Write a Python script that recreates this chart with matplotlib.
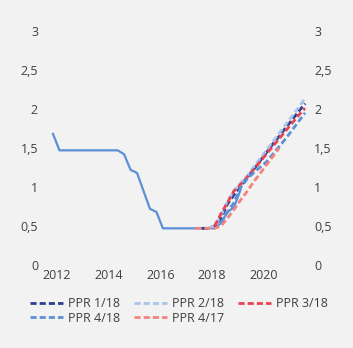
import matplotlib.pyplot as plt

plt.rcParams['font.family'] = ['Open Sans', 'DejaVu Sans']

# quarterly index: 0 = 2012 Q1
history_start = 0
history = [1.68, 1.47, 1.47, 1.47, 1.47, 1.47, 1.47, 1.47, 1.47, 1.47,
           1.47, 1.42, 1.22, 1.18, 0.95, 0.72, 0.68, 0.47, 0.47, 0.47,
           0.47, 0.47, 0.47, 0.47, 0.47, 0.47, 0.54, 0.68, 0.74, 0.96]

ppr_1_18_start = 23
ppr_1_18 = [0.47, 0.47, 0.5, 0.6, 0.78, 0.9, 1.0, 1.12, 1.22, 1.33,
            1.44, 1.55, 1.65, 1.76, 1.86, 1.97, 2.07]
ppr_2_18_start = 24
ppr_2_18 = [0.47, 0.5, 0.63, 0.82, 0.95, 1.05, 1.14, 1.25, 1.36, 1.47,
            1.58, 1.69, 1.8, 1.91, 2.02, 2.14]
ppr_3_18_start = 25
ppr_3_18 = [0.5, 0.66, 0.8, 0.95, 1.03, 1.12, 1.22, 1.32, 1.42, 1.52,
            1.62, 1.72, 1.82, 1.92, 2.01]
ppr_4_18_start = 26
ppr_4_18 = [0.54, 0.68, 0.8, 0.99, 1.1, 1.18, 1.25, 1.32, 1.42, 1.52,
            1.62, 1.73, 1.84, 1.95]
ppr_4_17_start = 22
ppr_4_17 = [0.47, 0.47, 0.47, 0.47, 0.5, 0.6, 0.71, 0.83, 0.94, 1.06,
            1.17, 1.28, 1.39, 1.5]

years = [2012, 2014, 2016, 2018, 2020]
yticks = [0, 0.5, 1, 1.5, 2, 2.5, 3]
ylabels = ['0', '0,5', '1', '1,5', '2', '2,5', '3']


def qx(start, values):
    return [2012 + (start + i) / 4 for i in range(len(values))]


bg = '#f2f2f2'
txt = '#404040'
fig = plt.figure(figsize=(3.53, 3.48), dpi=100, facecolor=bg)
ax = fig.add_axes([45 / 353, 83 / 348, 265 / 353, 234 / 348], facecolor=bg)

ax.plot(qx(history_start, history), history, color='#5b8fd6', lw=1.6, zorder=2)

series = [
    ('PPR 1/18', ppr_1_18_start, ppr_1_18, '#2e3f8f'),
    ('PPR 2/18', ppr_2_18_start, ppr_2_18, '#a9c4eb'),
    ('PPR 3/18', ppr_3_18_start, ppr_3_18, '#e8434f'),
    ('PPR 4/18', ppr_4_18_start, ppr_4_18, '#5b8fd6'),
    ('PPR 4/17', ppr_4_17_start, ppr_4_17, '#f4837d'),
]
handles = {}
for name, start, vals, color in series:
    line, = ax.plot(qx(start, vals), vals, color=color, lw=2,
                    dashes=(2.2, 1.1), label=name, zorder=3)
    handles[name] = line

ax.set_ylim(0, 3)
ax.set_xlim(2011.69, 2021.94)
ax.set_yticks(yticks)
ax.set_yticklabels(ylabels)
ax.set_xticks([y + 0.15 for y in years])
ax.set_xticklabels([str(y) for y in years])
ax.tick_params(axis='both', length=0, labelsize=9, colors=txt)
ax.tick_params(axis='y', pad=5)
ax.tick_params(axis='x', pad=3)

ax2 = ax.twinx()
ax2.set_ylim(0, 3)
ax2.set_yticks(yticks)
ax2.set_yticklabels(ylabels)
ax2.tick_params(axis='y', length=0, labelsize=9, colors=txt, pad=3)

for a in (ax, ax2):
    for s in a.spines.values():
        s.set_visible(False)

order = ['PPR 1/18', 'PPR 4/18', 'PPR 2/18', 'PPR 4/17', 'PPR 3/18']
fig.legend([handles[n] for n in order], order, ncol=3, loc='upper left',
           bbox_to_anchor=(19 / 353, 1 - 286 / 348), frameon=False,
           fontsize=9, handlelength=2.64, handletextpad=0.4,
           columnspacing=1.1, labelspacing=0.1, labelcolor=txt)

fig.savefig('out.png', dpi=100, facecolor=bg)
